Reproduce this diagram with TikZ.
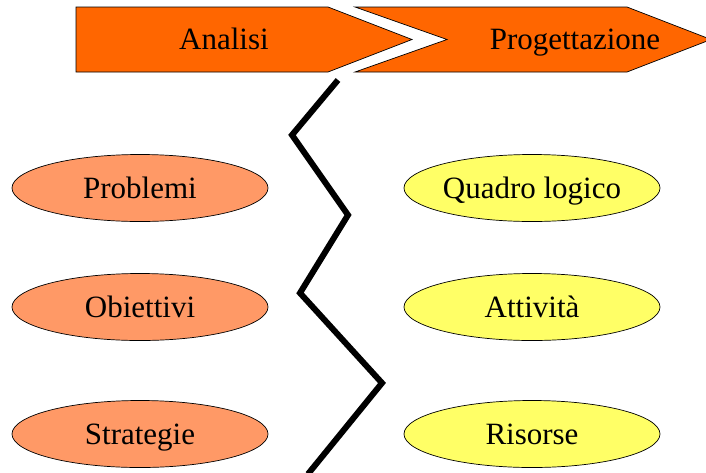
\documentclass[tikz,border=0pt]{standalone}
\usepackage{fontspec}
\setmainfont{Liberation Serif}
\usetikzlibrary{shapes.geometric}

\definecolor{phaseorange}{HTML}{FF6600}
\definecolor{analysissalmon}{HTML}{FF9966}
\definecolor{designyellow}{HTML}{FFFF66}

\begin{document}
\begin{tikzpicture}[
    x=1pt, y=-1pt,
    phase/.style={draw, line width=0.7pt, fill=phaseorange},
    phasetext/.style={font=\rmfamily\fontsize{31}{36}\selectfont, text height=20.5pt, text depth=0pt, inner sep=0pt},
    item/.style={ellipse, draw, line width=0.7pt, minimum width=256pt, minimum height=67pt, inner sep=0pt,
        font=\rmfamily\fontsize{31}{36}\selectfont, text height=20.5pt, text depth=0pt},
    analysis/.style={item, fill=analysissalmon},
    design/.style={item, fill=designyellow},
    cut/.style={line width=6pt, line join=miter}
]
    \useasboundingbox (0,0) rectangle (706,472);

    % Phases on top
    % Analisi
    \draw[phase] (76,7) -- (328,7) -- (412,39.5) -- (328,72) -- (76,72) -- cycle;
    \node[phasetext] (analisi) at (224,39.5) {Analisi};
    % Progettazione
    \draw[phase] (355,7) -- (627,7) -- (711,39.5) -- (627,72) -- (355,72) -- (447,39.5) -- cycle;
    \node[phasetext] (progettazione) at (575,39.5) {Progettazione};

    % Analysis steps (left)
    \node[analysis] (problemi) at (140,188) {Problemi};
    \node[analysis] (obiettivi) at (140,307) {Obiettivi};
    \node[analysis] (strategie) at (140,434) {Strategie};

    % Design steps (right)
    \node[design] (quadro) at (532,188) {Quadro logico};
    \node[design] (attivita) at (532,307) {Attività};
    \node[design] (risorse) at (532,434) {Risorse};

    % Zigzag break between the two phases
    \draw[cut] (338,80) -- (292,135) -- (348,215) -- (300,293) -- (382,383) -- (308,474);

\end{tikzpicture}
\end{document}
